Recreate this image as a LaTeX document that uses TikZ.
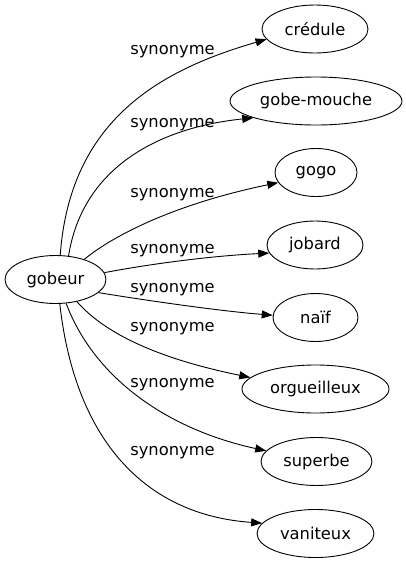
\documentclass[tikz,border=0pt]{standalone}
\usepackage{fontspec}
\setmainfont{DejaVu Sans}
\usetikzlibrary{shapes.geometric,arrows.meta}
\begin{document}
\begin{tikzpicture}[x=1pt,y=-1pt,
  word/.style={ellipse,draw,line width=0.9pt,inner sep=0pt,minimum height=48pt,font=\fontsize{16.3}{19}\selectfont},
  rel/.style={draw,line width=0.9pt,-{Triangle[length=11pt,width=8pt]}},
  lab/.style={inner sep=0pt,font=\fontsize{16.3}{19}\selectfont}]
\useasboundingbox (0,0) rectangle (406,563);
\node[word,minimum width=101pt] (g) at (55.5,279.5) {gobeur};
\node[word,minimum width=106pt] (c) at (315,29) {crédule};
\node[word,minimum width=172pt] (gm) at (316,101) {gobe-mouche};
\node[word,minimum width=82pt] (go) at (316,172.5) {gogo};
\node[word,minimum width=96pt] (j) at (315,245) {jobard};
\node[word,minimum width=85pt] (n) at (315.5,317.5) {naïf};
\node[word,minimum width=147pt] (o) at (315.5,389) {orgueilleux};
\node[word,minimum width=111pt] (s) at (316.5,461.5) {superbe};
\node[word,minimum width=117pt] (v) at (315.5,533.5) {vaniteux};

\node[lab] (l1) at (172.5,52) {synonyme};
\node[lab] (l2) at (172.5,125) {synonyme};
\node[lab] (l3) at (172.5,195) {synonyme};
\node[lab] (l4) at (172.5,251) {synonyme};
\node[lab] (l5) at (172.5,289.5) {synonyme};
\node[lab] (l6) at (172.5,328.5) {synonyme};
\node[lab] (l7) at (172.5,385) {synonyme};
\node[lab] (l8) at (172.5,452.5) {synonyme};

\draw[rel] (g.79) .. controls (70,120) and (160,70) .. (c.192);
\draw[rel] (g.61) .. controls (82,170) and (155,128) .. (gm.195);
\draw[rel] (g.35) .. controls (110,238) and (170,205) .. (go.195);
\draw[rel] (g.8) .. controls (150,264) and (210,256) .. (j.190);
\draw[rel] (g.343) .. controls (150,301) and (220,311) .. (n.177);
\draw[rel] (g.314) .. controls (115,345) and (190,365) .. (o.170);
\draw[rel] (g.294) .. controls (95,380) and (170,430) .. (s.168);
\draw[rel] (g.280) .. controls (75,440) and (145,515) .. (v.169);
\end{tikzpicture}
\end{document}
